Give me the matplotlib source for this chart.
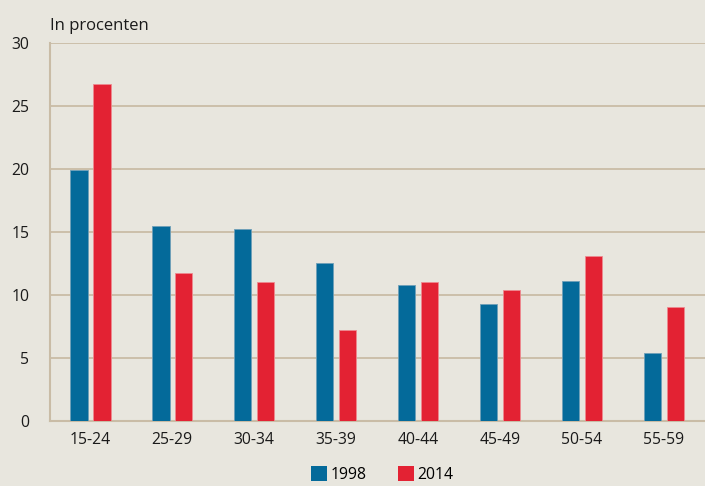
import matplotlib
matplotlib.use("Agg")
import matplotlib.pyplot as plt
import numpy as np
from matplotlib.patches import Patch

categories = ["15-24", "25-29", "30-34", "35-39", "40-44", "45-49", "50-54", "55-59"]
values_1998 = [19.9, 15.5, 15.2, 12.5, 10.8, 9.3, 11.1, 5.4]
values_2014 = [26.7, 11.7, 11.0, 7.2, 11.0, 10.4, 13.1, 9.0]
series_labels = ["1998", "2014"]
y_ticks = [0, 5, 10, 15, 20, 25, 30]

bg = "#e8e6de"
grid_c = "#c9bca6"
blue = "#046a9a"
red = "#e32233"

plt.rcParams['font.family'] = ['Open Sans', 'DejaVu Sans']

fig = plt.figure(figsize=(7.05, 4.86), dpi=100, facecolor=bg)
ax = fig.add_axes([0.071, 0.134, 0.929, 0.778], facecolor=bg)

x = np.arange(len(categories))
w = 0.215
off = 0.14
ax.bar(x - off, values_1998, width=w, color=blue, zorder=3, edgecolor="#6f9fb8", linewidth=0.6)
ax.bar(x + off, values_2014, width=w, color=red, zorder=3, edgecolor="#ee8a90", linewidth=0.6)

ax.set_xlim(-0.49, 7.5)
ax.set_ylim(0, 30)
ax.set_yticks(y_ticks)
ax.set_yticklabels([str(t) for t in y_ticks], fontsize=11.3, color="#1a1a1a")
ax.set_xticks(x)
ax.set_xticklabels(categories, fontsize=11.3, color="#1a1a1a")
ax.tick_params(axis='both', length=0)
ax.tick_params(axis='y', pad=15)
ax.tick_params(axis='x', pad=8)
for yv in y_ticks[1:]:
    ax.axhline(yv, color=grid_c, linewidth=1.3, zorder=1)
for s in ["top", "right"]:
    ax.spines[s].set_visible(False)
ax.spines["left"].set_color(grid_c)
ax.spines["bottom"].set_color(grid_c)
ax.spines["left"].set_linewidth(1.5)
ax.spines["bottom"].set_linewidth(1.5)

fig.text(0.071, 0.947, "In procenten", fontsize=12, color="#1a1a1a", ha="left", va="center")

handles = [Patch(facecolor=blue), Patch(facecolor=red)]
fig.legend(handles, series_labels, loc="center", bbox_to_anchor=(0.542, 0.024), ncol=2,
           frameon=False, fontsize=11.3, handlelength=1.05, handleheight=1.05,
           columnspacing=2.0, handletextpad=0.2, borderpad=0.1)

fig.savefig("out.png", dpi=100, facecolor=bg)
